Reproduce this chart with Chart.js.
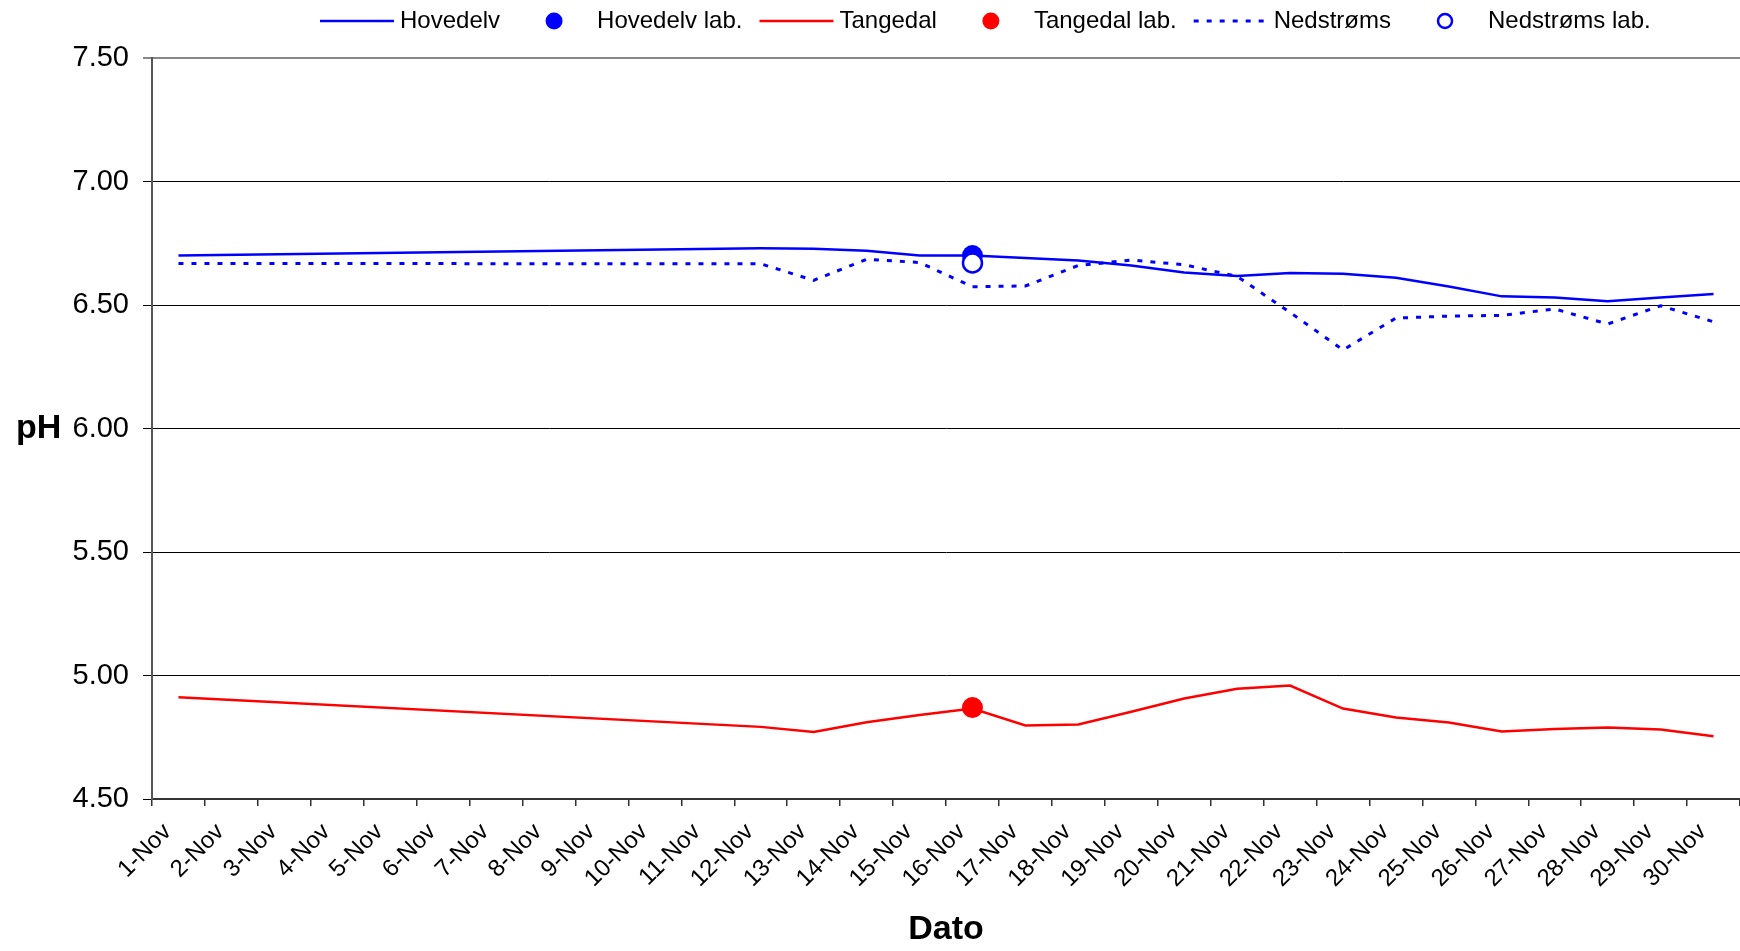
<!DOCTYPE html>
<html>
<head>
<meta charset="utf-8">
<title>pH</title>
<script src="https://cdn.jsdelivr.net/npm/chart.js@4.4.1/dist/chart.umd.min.js"></script>
<style>
  html, body { margin: 0; padding: 0; background: #fff; overflow: hidden; }
  #wrap { position: relative; width: 1740px; height: 951px; }
  canvas { display: block; }
</style>
</head>
<body>
<div id="wrap"><canvas id="myChart"></canvas></div>
<script>
// categories and values (no readings on 2-11 Nov)
var days = ['1-Nov', '2-Nov', '3-Nov', '4-Nov', '5-Nov', '6-Nov', '7-Nov', '8-Nov', '9-Nov', '10-Nov',
    '11-Nov', '12-Nov', '13-Nov', '14-Nov', '15-Nov', '16-Nov', '17-Nov', '18-Nov', '19-Nov', '20-Nov',
    '21-Nov', '22-Nov', '23-Nov', '24-Nov', '25-Nov', '26-Nov', '27-Nov', '28-Nov', '29-Nov', '30-Nov'];

var hovedelv = [6.70, null, null, null, null, null, null, null, null, null,
    null, 6.730, 6.728, 6.720, 6.700, 6.700, 6.690, 6.680, 6.660, 6.632,
    6.617, 6.630, 6.627, 6.610, 6.575, 6.535, 6.530, 6.515, 6.530, 6.545];

var tangedal = [4.912, null, null, null, null, null, null, null, null, null,
    null, 4.792, 4.771, 4.811, 4.840, 4.866, 4.798, 4.802, 4.853, 4.907,
    4.946, 4.959, 4.866, 4.830, 4.810, 4.773, 4.783, 4.789, 4.781, 4.754];

var nedstroms = [6.668, null, null, null, null, null, null, null, null, null,
    null, 6.667, 6.600, 6.685, 6.672, 6.574, 6.577, 6.660, 6.682, 6.663,
    6.616, 6.470, 6.318, 6.447, 6.455, 6.458, 6.484, 6.423, 6.497, 6.432];

// lab samples, only taken 16-Nov
var hovedelvLab = [null, null, null, null, null, null, null, null, null, null,
    null, null, null, null, null, 6.70, null, null, null, null,
    null, null, null, null, null, null, null, null, null, null];
var tangedalLab = [null, null, null, null, null, null, null, null, null, null,
    null, null, null, null, null, 4.87, null, null, null, null,
    null, null, null, null, null, null, null, null, null, null];
var nedstromsLab = [null, null, null, null, null, null, null, null, null, null,
    null, null, null, null, null, 6.67, null, null, null, null,
    null, null, null, null, null, null, null, null, null, null];

var yMin = 4.5
var yMax = 7.5
var yStep = 0.5

var FONT = '"Liberation Sans", Arial, Helvetica, sans-serif'
Chart.defaults.font.family = FONT
Chart.defaults.color = '#000'

// the rotated last date label makes Chart.js keep a strip free on the right,
// the plot should run to the edge like the original
var CategoryScale = Chart.registry.getScale('category')
var calcPadding = CategoryScale.prototype._calculatePadding
CategoryScale.prototype._calculatePadding = function() {
    calcPadding.apply(this, arguments)
    this.paddingRight = 0
}

function lineSet(label, data, color, dash) {
    return {
        label: label,
        data: data,
        borderColor: color,
        backgroundColor: color,
        borderWidth: dash ? 3 : 2.5,
        borderDash: dash || [],
        pointRadius: 0,
        tension: 0,
        spanGaps: true,
        order: 2
    }
}

function labSet(label, data, fill, border, borderWidth, order) {
    return {
        label: label,
        data: data,
        showLine: false,
        pointRadius: borderWidth > 0 ? 9.5 : 10.5,
        pointHoverRadius: 10,
        pointBackgroundColor: fill,
        pointBorderColor: border,
        pointBorderWidth: borderWidth,
        borderColor: border,
        backgroundColor: fill,
        order: order
    }
}

// Excel style legend row: line/marker then the text, laid out left to right
var legendRow = {
    id: 'legendRow',
    afterDraw: function(chart) {
        var ctx = chart.ctx
        var x = 320, y = 21
        ctx.save()
        ctx.font = '24px ' + FONT
        ctx.textBaseline = 'middle'
        chart.data.datasets.forEach(function(ds) {
            if (ds.showLine === false) {
                ctx.beginPath()
                ctx.arc(x + 37, y, ds.pointBorderWidth > 0 ? 7 : 8.5, 0, Math.PI * 2)
                ctx.fillStyle = ds.pointBackgroundColor
                ctx.fill()
                if (ds.pointBorderWidth > 0) {
                    ctx.lineWidth = ds.pointBorderWidth
                    ctx.strokeStyle = ds.pointBorderColor
                    ctx.stroke()
                }
            } else {
                ctx.beginPath()
                ctx.setLineDash(ds.borderDash)
                ctx.moveTo(x, y)
                ctx.lineTo(x + 74, y)
                ctx.lineWidth = ds.borderWidth
                ctx.strokeStyle = ds.borderColor
                ctx.stroke()
                ctx.setLineDash([])
            }
            ctx.fillStyle = '#000'
            ctx.fillText(ds.label, x + 80, y)
            x += 80 + ctx.measureText(ds.label).width + 17
        })

        // horizontal "pH" axis title
        ctx.font = 'bold 34px ' + FONT
        ctx.textAlign = 'left'
        ctx.fillText('pH', 16, (chart.chartArea.top + chart.chartArea.bottom) / 2)
        ctx.restore()
    }
}

var ctx = document.getElementById("myChart").getContext('2d');
var myChart = new Chart(ctx, {
    type: 'line',
    data: {
        labels: days,
        datasets: [
            lineSet('Hovedelv', hovedelv, '#0000FF'),
            labSet('Hovedelv lab.', hovedelvLab, '#0000FF', '#0000FF', 0, 1),
            lineSet('Tangedal', tangedal, '#FF0000'),
            labSet('Tangedal lab.', tangedalLab, '#FF0000', '#FF0000', 0, 1),
            lineSet('Nedstrøms', nedstroms, '#0000FF', [5, 8]),
            labSet('Nedstrøms lab.', nedstromsLab, '#FFFFFF', '#0000FF', 2.5, 0)
        ]
    },
    options: {
        responsive: true,
        maintainAspectRatio: false,
        animation: false,
        devicePixelRatio: 1,
        // big lab markers would otherwise pad the plot area
        layout: { autoPadding: false, padding: { top: 58, left: 0, right: 0, bottom: 0 } },
        plugins: {
            legend: { display: false },
            tooltip: { enabled: false }
        },
        scales: {
            x: {
                offset: true,
                grid: {
                    offset: true,
                    drawOnChartArea: false,
                    tickLength: 7,
                    color: '#333',
                    lineWidth: 1.5
                },
                border: { color: '#333', width: 2 },
                ticks: {
                    autoSkip: false,
                    maxRotation: 45,
                    minRotation: 45,
                    labelOffset: -11,
                    padding: 12,
                    color: '#000',
                    font: { size: 24 }
                },
                title: {
                    display: true,
                    text: 'Dato',
                    color: '#000',
                    font: { size: 34, weight: 'bold' },
                    padding: { top: 0, bottom: 1 }
                },
                afterFit: function(scale) {
                    scale.height = 152
                }
            },
            y: {
                min: yMin,
                max: yMax,
                grid: {
                    tickLength: 9,
                    color: function(c) { return c.tick && c.tick.value === yMax ? '#888' : '#000' },
                    lineWidth: function(c) { return c.tick && c.tick.value === yMax ? 2 : 1 }
                },
                border: { color: '#555', width: 2 },
                ticks: {
                    stepSize: yStep,
                    padding: 14,
                    color: '#000',
                    font: { size: 29 },
                    callback: function(v) { return v.toFixed(2) }
                },
                afterFit: function(scale) {
                    scale.width = 152
                }
            }
        }
    },
    plugins: [legendRow]
})
</script>
</body>
</html>
